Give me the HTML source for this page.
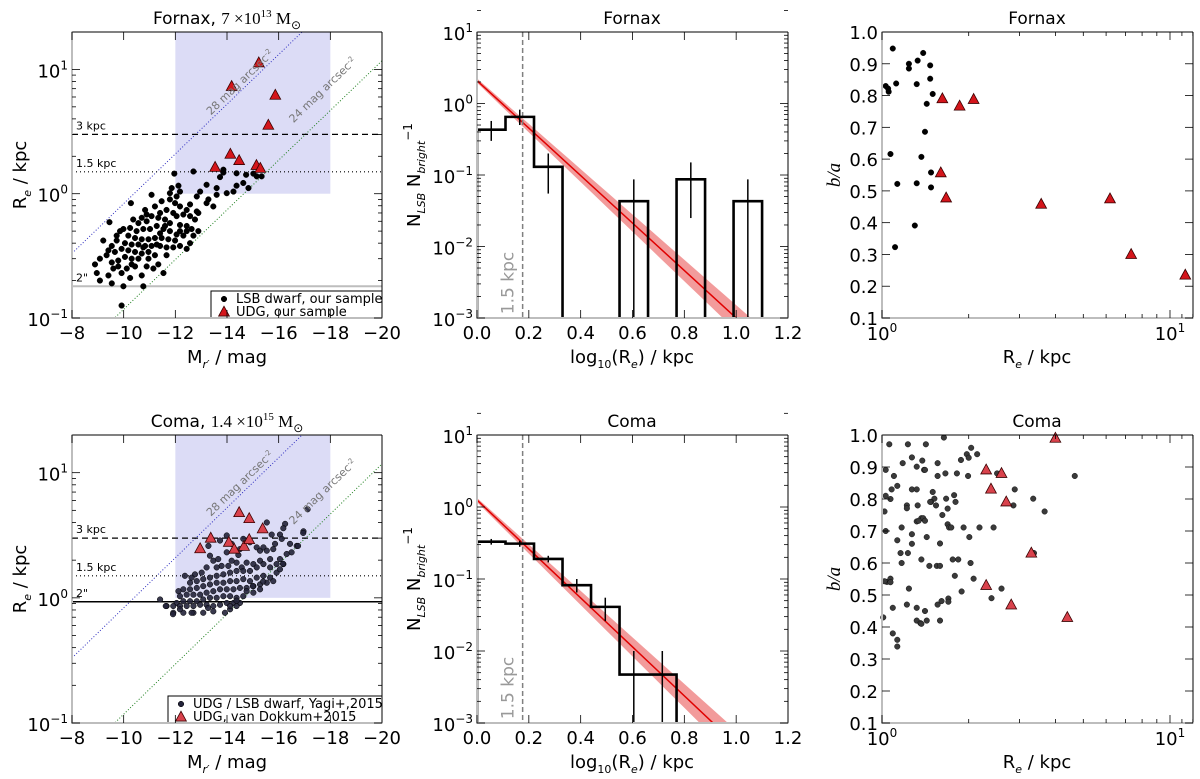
<!DOCTYPE html>
<html><head><meta charset="utf-8"><title>UDG figure</title>
<style>
html,body{margin:0;padding:0;background:#fff;}
svg{display:block;font-family:"DejaVu Sans","Liberation Sans",sans-serif;}
</style></head>
<body>
<svg id="fig" width="1200" height="779" viewBox="0 0 1200 779" xmlns="http://www.w3.org/2000/svg"></svg>
<script>
// ---------------- DATA ----------------
const fornaxDwarfM = [-11.96,-12.70,-13.86,-13.73,-14.37,-14.74,-15.02,-14.37,-14.63,-14.83,-13.99,-13.60,-13.28,-12.96,-12.83,-12.18,-11.86,-12.05,-11.79,-11.47,-11.08,-10.28,-9.45,-13.21,-13.47,-12.57,-12.44,-12.83,-12.18,-11.99,-11.66,-11.41,-11.21,-10.83,-10.70,-10.37,-10.57,-10.89,-11.08,-11.34,-11.60,-11.79,-12.05,-12.31,-12.57,-12.76,-12.89,-12.18,-12.44,-12.63,-12.89,-12.31,-12.05,-11.79,-11.54,-11.28,-11.02,-10.76,-10.50,-10.25,-9.99,-9.86,-10.18,-10.44,-10.70,-10.96,-11.21,-11.47,-11.73,-11.99,-12.18,-12.44,-11.92,-11.66,-11.41,-11.08,-10.83,-10.57,-10.31,-10.05,-9.73,-9.54,-9.21,-9.41,-9.66,-9.92,-10.18,-10.44,-10.70,-10.96,-11.21,-10.57,-10.31,-10.05,-9.79,-9.54,-9.34,-8.89,-8.96,-9.08,-9.41,-9.54,-9.92,-10.25,-9.99,-10.70,-10.76,-11.15,-11.34,-10.89,-11.54,-10.12,-10.44,-11.28,-10.76,-9.92,-10.89,-11.92,-11.60,-11.41,-12.18,-12.44,-9.73,-9.08,-9.60,-9.79,-10.31,-10.96,-11.66,-12.70,-12.57,-11.79,-12.12,-13.21,-13.60,-14.25,-15.15,-15.34,-13.86];
const fornaxDwarfRe = [1.45,1.51,1.48,1.36,1.46,1.42,1.45,1.16,1.22,1.11,1.01,0.98,0.90,1.04,0.95,1.04,1.11,0.95,0.90,0.87,0.98,0.84,0.59,0.84,0.79,0.82,0.74,0.72,0.79,0.84,0.74,0.70,0.79,0.74,0.64,0.62,0.58,0.60,0.66,0.64,0.62,0.58,0.66,0.68,0.66,0.62,0.70,0.56,0.55,0.52,0.50,0.46,0.47,0.50,0.52,0.55,0.52,0.52,0.50,0.53,0.52,0.50,0.46,0.44,0.43,0.43,0.44,0.44,0.43,0.42,0.38,0.36,0.37,0.37,0.38,0.38,0.38,0.39,0.39,0.40,0.42,0.38,0.42,0.35,0.34,0.36,0.35,0.34,0.33,0.34,0.32,0.30,0.30,0.31,0.29,0.28,0.32,0.27,0.23,0.20,0.22,0.19,0.23,0.21,0.18,0.22,0.18,0.25,0.27,0.26,0.23,0.25,0.26,0.39,0.37,0.126,0.68,0.70,0.55,0.48,0.50,0.50,0.46,0.30,0.25,0.26,0.27,0.30,0.32,0.46,0.40,1.01,1.16,1.18,1.11,1.04,1.38,1.38,1.56];
const fornaxUdgM = [-15.23,-14.18,-15.87,-15.60,-14.13,-14.47,-13.54,-15.14,-15.29];
const fornaxUdgRe = [11.3,7.3,6.2,3.56,2.08,1.85,1.63,1.69,1.60];

const comaDwarfM = [-17.12,-15.54,-16.25,-16.18,-15.73,-16.05,-16.12,-16.44,-16.96,-13.28,-13.34,-13.47,-13.66,-13.99,-14.44,-15.15,-15.28,-15.41,-15.54,-15.79,-15.86,-15.67,-15.28,-15.02,-14.76,-14.57,-14.37,-14.18,-14.05,-13.79,-13.60,-13.21,-13.02,-12.76,-12.63,-12.37,-12.57,-12.83,-13.08,-13.34,-13.60,-13.86,-14.12,-14.37,-14.63,-14.89,-15.15,-15.41,-15.67,-15.92,-16.05,-16.31,-16.50,-16.70,-15.92,-15.67,-15.41,-15.15,-14.89,-14.63,-14.37,-14.12,-13.86,-13.60,-13.34,-13.08,-12.83,-12.57,-12.31,-12.12,-12.18,-12.44,-12.70,-12.96,-13.21,-13.47,-13.73,-13.99,-14.25,-14.50,-14.76,-15.02,-15.28,-15.54,-15.79,-16.05,-16.18,-14.63,-14.37,-14.12,-13.86,-13.60,-13.34,-13.08,-12.83,-12.57,-12.31,-12.05,-11.92,-12.18,-12.44,-12.70,-12.96,-13.21,-13.47,-13.73,-13.99,-14.25,-14.50,-14.76,-15.02,-15.28,-14.89,-14.63,-14.50,-13.73,-13.99,-14.18,-11.66,-11.92,-12.31,-12.70,-13.08,-13.47,-14.12,-14.37,-11.41,-11.63,-11.91,-12.18,-12.63,-13.27,-13.92,-14.12,-14.37,-15.0,-15.4,-16.17,-16.75,-16.95];
const comaDwarfRe = [5.1,4.0,3.9,3.6,3.2,3.2,2.96,2.7,3.4,2.6,2.17,1.98,2.04,2.31,2.2,2.53,2.38,2.53,2.38,2.45,2.7,2.04,1.98,1.86,1.91,1.75,1.91,1.98,1.80,1.80,1.75,1.75,1.59,1.54,1.45,1.50,1.32,1.36,1.41,1.45,1.50,1.54,1.59,1.64,1.64,1.64,1.75,1.86,1.75,1.86,2.04,2.24,2.31,2.6,1.59,1.45,1.50,1.45,1.36,1.41,1.36,1.36,1.32,1.32,1.28,1.24,1.20,1.17,1.17,1.13,1.03,1.06,1.06,1.06,1.10,1.13,1.17,1.17,1.17,1.20,1.20,1.24,1.28,1.32,1.36,1.69,1.86,1.03,1.0,1.03,1.03,1.0,1.0,0.97,0.94,0.94,0.94,0.91,0.86,0.86,0.86,0.86,0.88,0.88,0.86,0.88,0.91,0.91,0.91,1.13,1.10,1.17,2.78,2.96,2.45,2.87,3.15,2.7,0.86,0.76,0.76,0.76,0.76,0.78,0.81,0.86,0.97,0.86,0.74,0.81,0.76,0.83,0.76,0.86,0.95,1.24,1.35,1.87,2.6,3.3];
const comaUdgM = [-14.47,-14.86,-15.38,-13.37,-12.96,-14.07,-14.28,-14.66,-14.86];
const comaUdgRe = [4.8,4.3,3.56,3.0,2.47,2.78,2.45,2.58,2.92];

const binEdges = [0,0.11,0.22,0.33,0.44,0.55,0.66,0.77,0.88,0.99,1.10];
const fornaxHist = [0.43,0.65,0.13,0,0,0.043,0,0.087,0,0.043];
const fornaxErrLo = [0.30,0.50,0.055,0,0,0.0005,0,0.025,0,0.0005];
const fornaxErrHi = [0.57,0.82,0.20,0,0,0.087,0,0.15,0,0.087];
const fornaxFit = [0.32,-3.32];
const fornaxFitWidth = [0.03,0.15];
const comaHist = [0.33,0.31,0.19,0.082,0.041,0.0047,0.0047];
const comaErrLo = [0.30,0.28,0.17,0.065,0.026,0.0005,0.0005];
const comaErrHi = [0.36,0.34,0.21,0.10,0.055,0.01,0.01];
const comaFit = [0.097,-3.4];
const comaFitWidth = [0.03,0.17];

const fornaxDotRe = [1.09,1.24,1.24,1.33,1.39,1.47,1.47,1.50,1.32,1.12,1.03,1.05,1.055,1.43,1.41,1.07,1.37,1.48,1.13,1.32,1.48,1.30,1.11];
const fornaxDotBa = [0.948,0.90,0.885,0.91,0.934,0.895,0.853,0.805,0.836,0.838,0.83,0.822,0.812,0.774,0.686,0.616,0.607,0.558,0.522,0.524,0.511,0.391,0.323];
const fornaxTriRe = [1.62,1.86,2.08,1.60,1.67,3.57,6.19,7.33,11.3];
const fornaxTriBa = [0.79,0.767,0.788,0.557,0.478,0.458,0.475,0.30,0.235];

const comaDotRe = [1.06,1.23,1.42,1.64,1.03,1.10,1.18,1.27,1.32,1.38,1.40,1.41,1.56,1.56,1.66,1.82,1.88,1.97,2.00,2.04,2.14,1.99,2.51,1.13,1.08,1.03,1.07,1.27,1.32,1.50,1.52,1.48,1.47,1.33,1.22,1.22,1.54,1.67,1.78,1.80,1.69,1.62,1.02,1.03,1.17,1.27,1.13,1.32,1.37,1.39,1.34,1.41,1.43,1.27,1.59,1.69,1.71,1.74,1.92,2.01,2.18,2.44,1.16,1.23,1.17,1.37,1.46,1.55,1.59,1.76,1.84,2.03,1.79,2.08,1.04,1.07,1.07,1.24,1.02,1.09,1.22,1.32,1.41,1.32,1.36,1.37,1.43,1.56,1.61,1.59,1.70,1.70,1.89,2.40,2.60,1.01,1.09,1.13,1.13,2.89,2.86,3.35,3.67,4.67,3.37];
const comaDotBa = [0.971,0.971,0.971,0.992,0.891,0.872,0.912,0.930,0.901,0.920,0.891,0.891,0.912,0.872,0.880,0.880,0.922,0.940,0.929,0.960,0.940,0.872,0.880,0.841,0.830,0.810,0.800,0.830,0.830,0.822,0.801,0.791,0.791,0.780,0.780,0.771,0.780,0.801,0.812,0.791,0.770,0.750,0.761,0.700,0.711,0.690,0.671,0.730,0.740,0.740,0.732,0.732,0.681,0.660,0.661,0.721,0.711,0.711,0.711,0.681,0.711,0.711,0.631,0.631,0.600,0.611,0.591,0.591,0.591,0.611,0.611,0.600,0.560,0.551,0.541,0.551,0.540,0.520,0.543,0.460,0.470,0.460,0.450,0.420,0.412,0.410,0.420,0.470,0.481,0.420,0.489,0.479,0.511,0.490,0.520,0.430,0.380,0.360,0.339,0.830,0.780,0.801,0.761,0.872,0.631];
const comaTriRe = [4.00,2.30,2.60,2.39,2.70,3.30,2.30,2.81,4.40];
const comaTriBa = [0.990,0.891,0.880,0.831,0.791,0.631,0.530,0.469,0.430];

const scatterXTicks = [-8,-10,-12,-14,-16,-18,-20];
const histXTicks = [0.0,0.2,0.4,0.6,0.8,1.0,1.2];
const baYTicks = [0.1,0.2,0.3,0.4,0.5,0.6,0.7,0.8,0.9,1.0];

// ---------------- HELPERS ----------------
const NS = 'http://www.w3.org/2000/svg';
const svg = document.getElementById('fig');
const TRI = 9;
function mk(tag, attrs, parent) {
  const e = document.createElementNS(NS, tag);
  for (const k in attrs) e.setAttribute(k, attrs[k]);
  (parent || svg).appendChild(e);
  return e;
}
function lin(p0, p1, v0, v1) { return v => p0 + (v - v0) / (v1 - v0) * (p1 - p0); }
function logs(p0, p1, v0, v1) { const a = Math.log10(v0), b = Math.log10(v1); return v => p0 + (Math.log10(v) - a) / (b - a) * (p1 - p0); }
function pow10Label(x, y, exp, anchor, g) {
  const t = mk('text', {x: x, y: y, 'font-size': 18, 'text-anchor': anchor, fill: '#000'}, g);
  t.textContent = '10';
  const s = mk('tspan', {dy: -8, 'font-size': 12}, t);
  s.textContent = exp;
  return t;
}
let clipId = 0;
function frame(g, L, R, T, B) {
  mk('line', {x1: L, y1: T, x2: R, y2: T, stroke: '#000', 'stroke-width': 1}, g);
  mk('line', {x1: R, y1: T, x2: R, y2: B, stroke: '#000', 'stroke-width': 1}, g);
  mk('line', {x1: L, y1: T - 0.5, x2: L, y2: B + 1, stroke: '#bdbdbd', 'stroke-width': 2}, g);
  mk('line', {x1: L - 1, y1: B, x2: R + 0.5, y2: B, stroke: '#bdbdbd', 'stroke-width': 2}, g);
}
function clipFor(L, R, T, B) {
  clipId++;
  const cp = mk('clipPath', {id: 'c' + clipId});
  mk('rect', {x: L, y: T, width: R - L, height: B - T}, cp);
  return 'url(#c' + clipId + ')';
}
function xtick(g, x, T, B, len) {
  mk('line', {x1: x, y1: B, x2: x, y2: B - len, stroke: '#000', 'stroke-width': 0.8}, g);
  mk('line', {x1: x, y1: T, x2: x, y2: T + len, stroke: '#000', 'stroke-width': 0.8}, g);
}
function ytick(g, y, L, R, len) {
  mk('line', {x1: L, y1: y, x2: L + len, y2: y, stroke: '#000', 'stroke-width': 0.8}, g);
  mk('line', {x1: R, y1: y, x2: R - len, y2: y, stroke: '#000', 'stroke-width': 0.8}, g);
}
function logYTicks(g, sy, L, R, lo, hi) {
  for (let e = lo; e <= hi; e++) {
    ytick(g, sy(Math.pow(10, e)), L, R, 8);
    const lbl = pow10Label(L - 4, sy(Math.pow(10, e)) + 8, String(e).replace('-', '\u2212'), 'end', g);
    
    
    for (let m = 2; m < 10; m++) { const v = m * Math.pow(10, e); if (e < hi || v <= 20) ytick(g, sy(v), L, R, 4); }
  }
}
function triangle(g, x, y, size, fill) {
  const h = size;
  return mk('polygon', {points: `${x},${y - h * 0.65} ${x - h * 0.6},${y + h * 0.45} ${x + h * 0.6},${y + h * 0.45}`, fill: fill, stroke: '#3a0000', 'stroke-width': 0.8}, g);
}
function rotText(g, x, y, txt, size, fill, ang) {
  const t = mk('text', {x: x, y: y, 'font-size': size, fill: fill, 'text-anchor': 'middle', transform: `rotate(${ang} ${x} ${y})`}, g);
  t.innerHTML = txt;
  return t;
}

// ---------------- SIZE-LUMINOSITY PANELS ----------------
function sizePanel(cfg) {
  const L = 72, R = 382, T = cfg.T, B = cfg.B;
  const g = mk('g', {});
  
  
  const sx = lin(L, R, -8, -20), sy = logs(B, T, 0.1, 20);
  const clip = clipFor(L, R, T, B);
  const inner = mk('g', {'clip-path': clip}, g);
  const shade = mk('rect', {x: sx(-12), y: T, width: sx(-18) - sx(-12), height: sy(1.0) - T, fill: '#dcdcf6'}, inner);
  
  
  const sb28 = mk('line', {x1: sx(-8), y1: sy(Math.pow(10, 1.6 - 2.08)), x2: sx(-20), y2: sy(Math.pow(10, 4.0 - 2.08)), stroke: '#3030c0', 'stroke-width': 1, 'stroke-dasharray': '1,2'}, inner);
  
  
  const sb24 = mk('line', {x1: sx(-8), y1: sy(Math.pow(10, 1.6 - 2.93)), x2: sx(-20), y2: sy(Math.pow(10, 4.0 - 2.93)), stroke: '#208020', 'stroke-width': 1, 'stroke-dasharray': '1,2'}, inner);
  
  
  const l3 = mk('line', {x1: L, y1: sy(3), x2: R, y2: sy(3), stroke: '#000', 'stroke-width': 1.3, 'stroke-dasharray': '6,4'}, inner);
  
  
  const l15 = mk('line', {x1: L, y1: sy(1.5), x2: R, y2: sy(1.5), stroke: '#000', 'stroke-width': 1.2, 'stroke-dasharray': '1,3'}, inner);
  
  
  const l2 = mk('line', {x1: L, y1: sy(cfg.arc2), x2: R, y2: sy(cfg.arc2), stroke: cfg.arcColor, 'stroke-width': cfg.arcW}, inner);
  
  
  [['3 kpc', 3], ['1.5 kpc', 1.5], ['2"', cfg.arc2]].forEach(([t, v]) => {
    const tx = mk('text', {x: 76, y: sy(v) - 5, 'font-size': 11, fill: '#000'}, inner);
    tx.textContent = t;
    
    
  });
  for (let i = 0; i < cfg.dM.length; i++) {
    const c = mk('circle', {cx: sx(cfg.dM[i]), cy: sy(cfg.dR[i]), r: 2.8, fill: cfg.dotFill, stroke: '#000', 'stroke-width': 0.5, 'fill-opacity': cfg.dotOpacity}, inner);
    
    
  }
  for (let i = 0; i < cfg.uM.length; i++) {
    const t = triangle(inner, sx(cfg.uM[i]), sy(cfg.uR[i]), TRI, cfg.triFill);
    
    
  }
  const t28 = rotText(g, sx(cfg.l28[0]), sy(cfg.l28[1]), '28 mag arcsec<tspan dy="-4" font-size="7">-2</tspan>', 11, '#777', -44);
  
  
  const t24 = rotText(g, sx(cfg.l24[0]), sy(cfg.l24[1]), '24 mag arcsec<tspan dy="-4" font-size="7">-2</tspan>', 11, '#777', -44);
  
  
  const lg = mk('g', {}, g);
  
  
  mk('rect', {x: cfg.legX, y: B - 27, width: R - cfg.legX, height: 27, fill: '#fff', stroke: '#000', 'stroke-width': 1}, lg);
  mk('circle', {cx: cfg.legX + 13, cy: B - 19, r: 2.8, fill: cfg.dotFill, stroke: '#000', 'stroke-width': 0.5}, lg);
  triangle(lg, cfg.legX + 13, B - 6, TRI, cfg.triFill);
  const e1 = mk('text', {x: cfg.legX + 25, y: B - 15, 'font-size': 13}, lg); e1.textContent = cfg.leg1;
  
  
  const e2 = mk('text', {x: cfg.legX + 25, y: B - 2, 'font-size': 13}, lg); e2.textContent = cfg.leg2;
  
  
  frame(g, L, R, T, B);
  scatterXTicks.forEach(v => {
    xtick(g, sx(v), T, B, 8);
    const t = mk('text', {x: sx(v), y: B + 21, 'font-size': 18, 'text-anchor': 'middle'}, g);
    t.textContent = String(v).replace('-', '\u2212');
    
    
  });
  logYTicks(g, sy, L, R, -1, 1);
  const xl = mk('text', {x: 227, y: B + 45, 'font-size': 18, 'text-anchor': 'middle'}, g);
  xl.innerHTML = 'M<tspan dy="5" font-size="11" font-style="italic">r\u2032</tspan><tspan dy="-5"> / mag</tspan>';
  
  
  const yl = rotText(g, 26, (T + B) / 2, 'R<tspan dy="5" font-size="11" font-style="italic">e</tspan><tspan dy="-5"> / kpc</tspan>', 18, '#000', -90);
  
  
  const ti = mk('text', {x: 227, y: T - 8, 'font-size': 17, 'text-anchor': 'middle'}, g);
  ti.innerHTML = cfg.cluster + ', <tspan font-family="Liberation Serif, serif">' + cfg.mass + ' \u00d710<tspan dy="-7" font-size="11">' + cfg.massExp + '</tspan><tspan dy="7"> M</tspan><tspan dy="5" font-size="12">\u2299</tspan></tspan>';
  
  
}
sizePanel({name: 'fornax-size-panel', T: 32, B: 318, dM: fornaxDwarfM, dR: fornaxDwarfRe, uM: fornaxUdgM, uR: fornaxUdgRe, arc2: 0.18, arcColor: '#bdbdbd', arcW: 2, dotFill: '#000', dotOpacity: 1, triFill: '#d4151b', leg1: 'LSB dwarf, our sample', leg2: 'UDG, our sample', legX: 211, cluster: 'Fornax', mass: '7', massExp: '13', l28: [-14.6, 7.5], l24: [-17.8, 6.5]});
sizePanel({name: 'coma-size-panel', T: 435, B: 723, dM: comaDwarfM, dR: comaDwarfRe, uM: comaUdgM, uR: comaUdgRe, arc2: 0.93, arcColor: '#000', arcW: 1.5, dotFill: '#23233a', dotOpacity: 0.9, triFill: '#d9424c', leg1: 'UDG / LSB dwarf, Yagi+,2015', leg2: 'UDG, van Dokkum+2015', legX: 168, cluster: 'Coma', mass: '1.4', massExp: '15', l28: [-14.6, 7.8], l24: [-17.8, 6.7]});

// ---------------- HISTOGRAM PANELS ----------------
function histPanel(cfg) {
  const L = 477, R = 788, T = cfg.T, B = cfg.B;
  const g = mk('g', {});
  
  
  const sx = lin(L, R, 0, 1.2), sy = logs(B, T, 1e-3, 10);
  const inner = mk('g', {'clip-path': clipFor(L, R, T, B)}, g);
  const up = [], dn = [];
  for (let k = 0; k <= 24; k++) {
    const x = k * 0.05;
    const c = cfg.fit[0] + cfg.fit[1] * x, w = cfg.fw[0] + cfg.fw[1] * x;
    up.push(sx(x) + ',' + sy(Math.pow(10, c + w)));
    dn.unshift(sx(x) + ',' + sy(Math.pow(10, c - w)));
  }
  const band = mk('polygon', {points: up.concat(dn).join(' '), fill: '#f08a8a', 'fill-opacity': 0.85}, inner);
  
  
  const fl = mk('line', {x1: sx(0), y1: sy(Math.pow(10, cfg.fit[0])), x2: sx(1.2), y2: sy(Math.pow(10, cfg.fit[0] + cfg.fit[1] * 1.2)), stroke: '#e00000', 'stroke-width': 1.5}, inner);
  
  
  const vx = sx(Math.log10(1.5));
  const vl = mk('line', {x1: vx, y1: T, x2: vx, y2: B, stroke: '#808080', 'stroke-width': 1.5, 'stroke-dasharray': '5,3'}, inner);
  
  
  const vt = rotText(g, vx - 9, B - 35, '1.5 kpc', 17, '#999', -90);
  
  
  const h = cfg.hist;
  const yv = v => v > 0 ? sy(v) : B + 3;
  let d = `M${sx(binEdges[0])},${B + 3}`;
  for (let i = 0; i < h.length; i++) d += ` L${sx(binEdges[i])},${yv(h[i])} L${sx(binEdges[i + 1])},${yv(h[i])}`;
  d += ` L${sx(binEdges[h.length])},${B + 3}`;
  const hp = mk('path', {d: d, fill: 'none', stroke: '#000', 'stroke-width': 2.6}, inner);
  
  
  for (let i = 0; i < h.length; i++) {
    if (h[i] <= 0) continue;
    const cx = sx((binEdges[i] + binEdges[i + 1]) / 2);
    const eb = mk('line', {x1: cx, y1: sy(cfg.lo[i]), x2: cx, y2: sy(cfg.hi[i]), stroke: '#000', 'stroke-width': 1.5}, inner);
    
    
    mk('line', {x1: cx - 3, y1: sy(h[i]), x2: cx + 3, y2: sy(h[i]), stroke: '#000', 'stroke-width': 1.5}, inner);
  }
  frame(g, L, R, T, B);
  histXTicks.forEach(v => {
    xtick(g, sx(v), T, B, 8);
    const t = mk('text', {x: sx(v), y: B + 21, 'font-size': 18, 'text-anchor': 'middle'}, g);
    t.textContent = v.toFixed(1);
    
    
  });
  logYTicks(g, sy, L, R, -3, 1);
  const xl = mk('text', {x: 632, y: B + 45, 'font-size': 18, 'text-anchor': 'middle'}, g);
  xl.innerHTML = 'log<tspan dy="5" font-size="11">10</tspan><tspan dy="-5">(R</tspan><tspan dy="5" font-size="11" font-style="italic">e</tspan><tspan dy="-5">) / kpc</tspan>';
  
  
  const yl = rotText(g, 420, (T + B) / 2, 'N<tspan dy="5" font-size="11" font-style="italic">LSB</tspan><tspan dy="-5"> N</tspan><tspan dy="5" font-size="11" font-style="italic">bright</tspan><tspan dy="-13" font-size="12">\u22121</tspan>', 18, '#000', -90);
  
  
  const ti = mk('text', {x: 632, y: T - 8, 'font-size': 17, 'text-anchor': 'middle'}, g);
  ti.textContent = cfg.title;
  
  
}
histPanel({name: 'fornax-size-distribution', T: 32, B: 318, hist: fornaxHist, lo: fornaxErrLo, hi: fornaxErrHi, fit: fornaxFit, fw: fornaxFitWidth, title: 'Fornax'});
histPanel({name: 'coma-size-distribution', T: 435, B: 723, hist: comaHist, lo: comaErrLo, hi: comaErrHi, fit: comaFit, fw: comaFitWidth, title: 'Coma'});

// ---------------- AXIS RATIO PANELS ----------------
function baPanel(cfg) {
  const L = 882, R = 1193, T = cfg.T, B = cfg.B;
  const g = mk('g', {});
  
  
  const sx = logs(L, L + 288, 1, 10), sy = lin(B, T, 0.1, 1.0);
  const inner = mk('g', {'clip-path': clipFor(L - 4, R, T - 6, B)}, g);
  for (let i = 0; i < cfg.dR.length; i++) {
    const c = mk('circle', {cx: sx(cfg.dR[i]), cy: sy(cfg.dB[i]), r: 2.8, fill: cfg.dotFill, stroke: '#000', 'stroke-width': 0.4}, inner);
    
    
  }
  for (let i = 0; i < cfg.uR.length; i++) {
    const t = triangle(inner, sx(cfg.uR[i]), sy(cfg.uB[i]), TRI, cfg.triFill);
    
    
  }
  frame(g, L, R, T, B);
  for (let m = 1; m <= 12; m++) xtick(g, sx(m), T, B, (m === 1 || m === 10) ? 8 : 4);
  const xt0 = pow10Label(sx(1), B + 22, '0', 'middle', g);
  
  
  const xt1 = pow10Label(sx(10), B + 22, '1', 'middle', g);
  
  
  baYTicks.forEach(v => {
    ytick(g, sy(v), L, R, 8);
    const t = mk('text', {x: L - 4, y: sy(v) + 7, 'font-size': 18, 'text-anchor': 'end'}, g);
    t.textContent = v.toFixed(1);
    
    
  });
  const xl = mk('text', {x: 1037, y: B + 45, 'font-size': 18, 'text-anchor': 'middle'}, g);
  xl.innerHTML = 'R<tspan dy="5" font-size="11" font-style="italic">e</tspan><tspan dy="-5"> / kpc</tspan>';
  
  
  const yl = rotText(g, 840, (T + B) / 2, 'b/a', 19, '#000', -90);
  yl.setAttribute('font-style', 'italic');
  yl.setAttribute('font-family', 'Liberation Serif, serif');
  
  
  const ti = mk('text', {x: 1037, y: T - 8, 'font-size': 17, 'text-anchor': 'middle'}, g);
  ti.textContent = cfg.title;
  
  
}
baPanel({name: 'fornax-axis-ratio-panel', T: 32, B: 318, dR: fornaxDotRe, dB: fornaxDotBa, uR: fornaxTriRe, uB: fornaxTriBa, dotFill: '#000', triFill: '#d4151b', title: 'Fornax'});
baPanel({name: 'coma-axis-ratio-panel', T: 435, B: 723, dR: comaDotRe, dB: comaDotBa, uR: comaTriRe, uB: comaTriBa, dotFill: '#3a3a3a', triFill: '#d9424c', title: 'Coma'});
</script>
</body></html>
